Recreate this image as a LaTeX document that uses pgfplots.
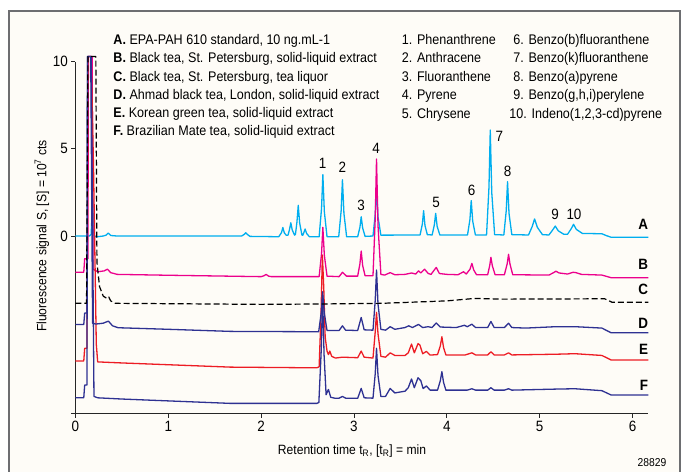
\documentclass[border=0pt]{standalone}
\usepackage{fontspec}
\setmainfont{Liberation Sans}[FakeStretch=0.9]
\usepackage{pgfplots}
\pgfplotsset{compat=1.18}
\definecolor{cA}{HTML}{00AEEF}
\definecolor{cB}{HTML}{EC008C}
\definecolor{cE}{HTML}{ED1C24}
\definecolor{cNavy}{HTML}{2E3192}
\definecolor{bgcream}{HTML}{FEFCF7}
\definecolor{framegray}{HTML}{6D6E71}

\begin{document}
\begin{tikzpicture}
\path[use as bounding box] (-75.4bp,-58.5bp) rectangle (609.6bp,413.5bp);
% frame, coordinates in image pixels
\begin{scope}[x=1bp,y=-1bp,shift={(-75.4bp,413.5bp)}]
  \fill[bgcream] (9,11) rectangle (680,480);
  \draw[framegray, line width=2bp] (9,480) -- (9,11) -- (680,11) -- (680,480);
\end{scope}

\begin{axis}[
  at={(0,0)}, anchor=south west, scale only axis,
  width=572.9bp, height=351.8bp,
  xmin=0, xmax=6.17, ymin=-10.18, ymax=10,
  axis lines*=left, axis line style={-, line width=1bp, black!85},
  clip=false,
  xtick={0,1,2,3,4,5,6},
  ytick={-10.18,0,5,10}, yticklabels={,0,5,10},
  tick align=outside, major tick length=4bp,
  tick style={black!85, line width=0.9bp},
  ticklabel style={font=\fontsize{15}{16}\selectfont},
  /pgf/number format/assume math mode=true,
  every axis plot/.append style={line width=1.3bp, line join=round},
]
% A: EPA-PAH 610 standard
\addplot[cA] coordinates {
(0,0) (0.15,0) (0.17,0.1) (0.185,2.07) (0.20,0.05) (0.22,-0.05) (0.30,0) (0.33,0.05) (0.355,0.17) (0.38,0.03) (0.45,0)
(1.79,0) (1.82,0.1) (1.835,0.19) (1.85,0.1) (1.88,-0.02)
(2.19,-0.04) (2.22,0.2) (2.234,0.49) (2.25,0.18) (2.27,0.05)
(2.29,0.05) (2.306,0.38) (2.32,0.76) (2.335,0.35) (2.36,0.05)
(2.37,0.1) (2.386,0.8) (2.40,1.76) (2.415,0.75) (2.44,0.05)
(2.45,0.05) (2.462,0.22) (2.474,0.4) (2.49,0.15) (2.52,-0.04)
(2.625,-0.04) (2.651,1.6) (2.665,3.52) (2.681,1.4) (2.71,-0.04)
(2.836,-0.04) (2.862,1.45) (2.876,3.23) (2.892,1.3) (2.921,-0.04)
(3.04,-0.04) (3.064,0.5) (3.078,1.1) (3.094,0.45) (3.12,-0.02)
(3.205,0) (3.229,1.25) (3.243,2.75) (3.259,1.1) (3.29,0.05)
(3.712,0.06) (3.737,0.7) (3.75,1.45) (3.765,0.6) (3.79,0.08)
(3.842,0.06) (3.866,0.65) (3.88,1.30) (3.896,0.55) (3.925,0.06)
(4.223,0.06) (4.249,0.95) (4.263,2.03) (4.279,0.85) (4.308,0.06)
(4.428,0.06) (4.454,2.8) (4.468,6.08) (4.484,2.5) (4.515,0.08)
(4.614,0.06) (4.64,1.45) (4.654,3.12) (4.67,1.3) (4.70,0.08)
(4.88,0.06) (4.92,0.55) (4.945,0.98) (4.975,0.5) (5.03,0.08)
(5.10,0.06) (5.14,0.35) (5.168,0.57) (5.20,0.3) (5.26,0.1)
(5.30,0.1) (5.34,0.42) (5.365,0.67) (5.395,0.38) (5.46,0.15)
(5.67,0.13) (5.72,0.02) (5.77,-0.07) (6.17,-0.07)
};
% B: black tea, solid-liquid extract
\addplot[cB] coordinates {
(0,-2.08) (0.09,-2.08) (0.10,-1.3) (0.135,-1.3) (0.14,10.3) (0.18,10.3) (0.19,-1.9) (0.24,-2.05) (0.31,-2.0) (0.345,-1.9) (0.38,-2.1) (0.45,-2.2)
(1.0,-2.25) (2.0,-2.33) (2.03,-2.28) (2.054,-2.2) (2.08,-2.3) (2.11,-2.33)
(2.625,-2.33) (2.651,-1.0) (2.665,0.5) (2.681,-1.1) (2.71,-2.3)
(2.84,-2.33) (2.876,-2.08) (2.92,-2.3)
(3.04,-2.3) (3.064,-1.6) (3.078,-0.86) (3.094,-1.7) (3.12,-2.28)
(3.205,-2.28) (3.229,1.0) (3.243,4.42) (3.259,0.6) (3.29,-2.2)
(3.33,-2.24) (3.39,-2.1) (3.44,-2.22) (3.55,-2.2) (3.62,-2.12) (3.665,-2.18) (3.695,-2.0) (3.72,-2.12) (3.76,-1.9) (3.80,-2.15) (3.83,-2.2) (3.886,-1.8) (3.92,-2.15)
(4.0,-2.2) (4.12,-2.22) (4.18,-2.05) (4.21,-2.18) (4.25,-1.9) (4.27,-1.57) (4.29,-1.95) (4.32,-2.22)
(4.44,-2.22) (4.462,-1.7) (4.475,-1.22) (4.49,-1.7) (4.52,-2.22)
(4.62,-2.22) (4.65,-1.6) (4.665,-1.05) (4.68,-1.6) (4.71,-2.22)
(5.10,-2.24) (5.15,-2.1) (5.175,-2.02) (5.21,-2.12) (5.30,-2.18) (5.36,-2.08) (5.39,-2.1) (5.45,-2.2)
(5.67,-2.24) (5.77,-2.39) (6.17,-2.39)
};
% E: Korean green tea
\addplot[cE] coordinates {
(0,-7.17) (0.09,-7.17) (0.10,-6.44) (0.125,-6.44) (0.135,10.3) (0.17,10.3) (0.195,4.0) (0.225,-6.2) (0.24,-7.22) (0.5,-7.28) (1.67,-7.52) (2.6,-7.56)
(2.625,-7.5) (2.645,-4.5) (2.66,-1.09) (2.675,-3.0) (2.69,-5.8) (2.71,-6.6) (2.725,-6.8) (2.74,-6.6) (2.76,-6.9) (2.80,-7.0) (2.876,-6.95) (3.04,-6.98)
(3.078,-6.6) (3.11,-6.95)
(3.205,-7.0) (3.229,-5.5) (3.243,-4.38) (3.259,-5.6) (3.29,-6.9) (3.34,-6.95) (3.39,-6.7) (3.44,-6.85) (3.55,-6.85) (3.585,-6.7) (3.62,-6.2) (3.65,-6.7) (3.69,-6.17) (3.71,-6.25) (3.74,-6.75) (3.78,-6.62) (3.82,-6.83)
(3.90,-6.8) (3.93,-6.3) (3.947,-5.78) (3.965,-6.4) (3.99,-6.82)
(4.20,-6.82) (4.27,-6.7) (4.31,-6.82) (4.44,-6.82) (4.475,-6.64) (4.51,-6.82) (4.62,-6.82) (4.665,-6.7) (4.70,-6.82)
(5.175,-6.78) (5.38,-6.75) (5.67,-6.85) (5.77,-7.11) (6.17,-7.11)
};
% F: Brazilian Mate tea
\addplot[cNavy] coordinates {
(0,-9.28) (0.09,-9.28) (0.10,-8.55) (0.125,-8.55) (0.13,10.3) (0.17,10.3) (0.20,-9.2) (0.24,-9.28) (0.5,-9.35) (1.67,-9.6) (2.6,-9.6)
(2.622,-9.55) (2.648,-6.5) (2.662,-3.4) (2.678,-6.8) (2.70,-9.1) (2.725,-8.8) (2.75,-9.25) (2.80,-9.31) (2.84,-9.3) (2.876,-9.2) (2.91,-9.3)
(3.04,-9.31) (3.078,-8.74) (3.11,-9.28)
(3.205,-9.3) (3.229,-7.9) (3.243,-6.44) (3.259,-8.0) (3.29,-9.2) (3.34,-9.2) (3.39,-8.74) (3.44,-9.0) (3.55,-8.9) (3.585,-8.7) (3.62,-8.2) (3.65,-8.7) (3.69,-8.13) (3.72,-8.3) (3.745,-8.75) (3.78,-8.6) (3.82,-8.84)
(3.90,-8.84) (3.93,-8.3) (3.947,-7.78) (3.965,-8.4) (3.99,-8.84)
(4.22,-8.84) (4.27,-8.76) (4.31,-8.84) (4.44,-8.84) (4.475,-8.7) (4.51,-8.84) (4.62,-8.84) (4.665,-8.76) (4.70,-8.84)
(5.175,-8.78) (5.38,-8.76) (5.67,-8.87) (5.77,-9.12) (6.17,-9.12)
};
% D: Ahmad black tea
\addplot[cNavy] coordinates {
(0,-5.08) (0.09,-5.08) (0.10,-4.42) (0.125,-4.42) (0.13,10.3) (0.165,10.3) (0.185,-5.0) (0.22,-5.05) (0.30,-5.0) (0.355,-4.88) (0.40,-5.15) (0.46,-5.26) (1.0,-5.35) (1.67,-5.47) (2.6,-5.49)
(2.62,-5.49) (2.65,-4.3) (2.662,-3.2) (2.68,-4.4) (2.71,-5.42)
(2.84,-5.42) (2.876,-5.15) (2.91,-5.4)
(3.04,-5.42) (3.078,-4.67) (3.11,-5.38)
(3.205,-5.4) (3.229,-3.7) (3.243,-1.95) (3.259,-3.9) (3.29,-5.35) (3.34,-5.4) (3.39,-5.2) (3.44,-5.35) (3.55,-5.25) (3.59,-5.15) (3.63,-5.25) (3.695,-5.07) (3.74,-5.25) (3.80,-5.2) (3.84,-5.25) (3.886,-4.99) (3.93,-5.22)
(4.10,-5.25) (4.19,-5.12) (4.22,-5.2) (4.27,-5.06) (4.31,-5.25) (4.44,-5.25) (4.475,-4.9) (4.51,-5.25) (4.62,-5.25) (4.665,-5.0) (4.70,-5.25)
(4.85,-5.28) (5.175,-5.2) (5.38,-5.2) (5.67,-5.28) (5.77,-5.55) (6.17,-5.55)
};
% C: black tea liquor
\addplot[black, dash pattern=on 6bp off 3bp, line width=1.2bp] coordinates {
(0,-3.86) (0.12,-3.86) (0.135,10.3) (0.22,10.3) (0.232,-1.5) (0.26,-2.9) (0.30,-3.45) (0.34,-3.58) (0.36,-3.5) (0.38,-3.72) (0.43,-3.86)
(1.5,-3.9) (2.0,-3.92) (2.6,-3.9) (3.3,-3.86) (4.0,-3.72) (4.3,-3.58) (4.6,-3.62) (5.7,-3.6) (5.78,-3.8) (6.17,-3.8)
};
\end{axis}

% texts, coordinates in image pixels
\begin{scope}[x=1bp,y=-1bp,shift={(-75.4bp,413.5bp)}]
  \begin{scope}[every node/.style={anchor=base west, inner sep=0pt, font=\fontsize{14}{16}\selectfont}]
    \node at (113.3,44.7) {\textbf{A.} EPA-PAH 610 standard, 10 ng.mL-1};
    \node at (113.3,62.9) {\textbf{B.} Black tea, St. Petersburg, solid-liquid extract};
    \node at (113.3,81.1) {\textbf{C.} Black tea, St. Petersburg, tea liquor};
    \node at (113.3,99.5) {\textbf{D.} Ahmad black tea, London, solid-liquid extract};
    \node at (113.3,117.8) {\textbf{E.} Korean green tea, solid-liquid extract};
    \node at (113.3,135.8) {\textbf{F.} Brazilian Mate tea, solid-liquid extract};
    \node at (401.7,44.7) {1. Phenanthrene};
    \node at (401.7,62.9) {2. Anthracene};
    \node at (401.7,81.1) {3. Fluoranthene};
    \node at (401.7,99.9) {4. Pyrene};
    \node at (401.7,118.8) {5. Chrysene};
    \node at (513.3,44.7) {6. Benzo(b)fluoranthene};
    \node at (513.3,62.9) {7. Benzo(k)fluoranthene};
    \node at (513.3,81.1) {8. Benzo(a)pyrene};
    \node at (513.3,99.9) {9. Benzo(g,h,i)perylene};
    \node at (509.3,118.8) {10. Indeno(1,2,3-cd)pyrene};
  \end{scope}
  \begin{scope}[every node/.style={anchor=center, inner sep=0pt, font=\fontsize{15}{16}\selectfont}]
    \node at (322.7,163.3) {1};
    \node at (342.3,167.3) {2};
    \node at (361,205.7) {3};
    \node at (376,148.3) {4};
    \node at (436,202.3) {5};
    \node at (471.7,190) {6};
    \node at (499.3,136) {7};
    \node at (507.7,171.7) {8};
    \node at (555,214.3) {9};
    \node at (574,214.3) {10};
  \end{scope}
  \begin{scope}[every node/.style={anchor=base east, inner sep=0pt, font=\fontsize{15}{16}\selectfont\bfseries}]
    \node at (648.3,229.5) {A};
    \node at (648.3,269.5) {B};
    \node at (648.3,294.8) {C};
    \node at (648.3,328.8) {D};
    \node at (648.3,354.8) {E};
    \node at (648.3,390.5) {F};
  \end{scope}
  \node[rotate=90, font=\fontsize{13.5}{15}\selectfont] at (42,236)
    {Fluorescence signal S, [S] = 10\textsuperscript{7} cts};
  \node[font=\fontsize{13.5}{15}\selectfont] at (352,451)
    {Retention time t\textsubscript{R}, [t\textsubscript{R}] = min};
  \node[font=\fontsize{11.5}{13}\selectfont] at (652,463) {28829};
\end{scope}
\end{tikzpicture}
\end{document}
